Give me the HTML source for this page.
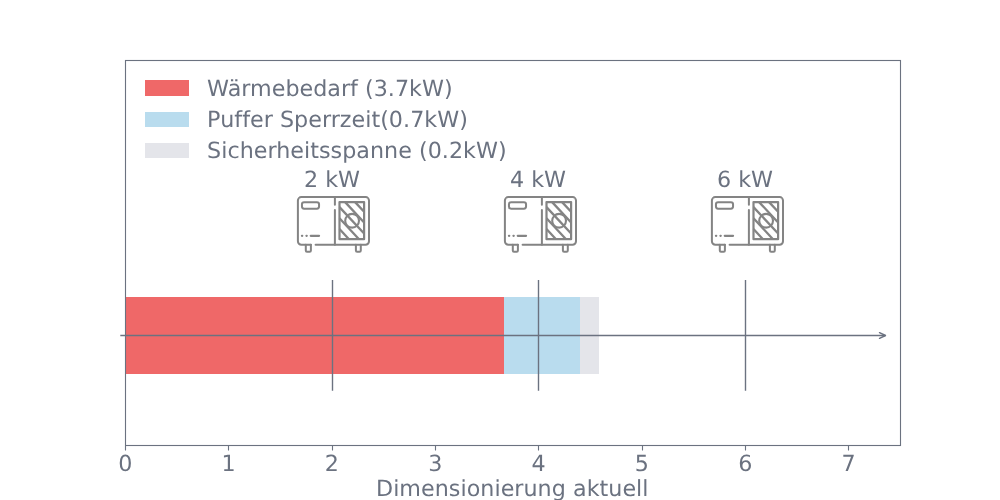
<!DOCTYPE html>
<html lang="de">
<head>
<meta charset="utf-8">
<title>Dimensionierung aktuell</title>
<style>
html,body{margin:0;padding:0;background:#fff;}
body{width:1000px;height:500px;overflow:hidden;}
svg{display:block;}
text{text-rendering:geometricPrecision;font-variant-ligatures:none;font-kerning:normal;font-family:"DejaVu Sans","Liberation Sans",sans-serif;font-size:22.222px;fill:#6b7280;}
.mid{text-anchor:middle;}
.ln{stroke:#6b7280;fill:none;}
</style>
</head>
<body>
<svg width="1000" height="500" viewBox="0 0 1000 500">
<defs>
<g id="hp" fill="none" stroke="#848484" stroke-width="2" stroke-linecap="round" stroke-linejoin="round">
  <path d="M17.6,47.6 H67.6 A3.4,3.4 0 0 0 71,44.2 V3.4 A3.4,3.4 0 0 0 67.6,0 H3.3 A3.4,3.4 0 0 0 -0.1,3.4 V44.2 A3.4,3.4 0 0 0 3.3,47.6 H12.9"/>
  <path d="M36.9,0 V7.6 M36.9,12.8 V47.6"/>
  <rect x="3.95" y="5.05" width="17.1" height="6.5" rx="2.1"/>
  <path stroke-width="2.1" d="M3.9,38.75 h0.4 M8.4,38.75 h0.4 M12.7,38.75 H21.1"/>
  <rect x="41.5" y="5" width="24.6" height="37.1" stroke-width="2.2"/>
  <circle cx="54.1" cy="23.65" r="6.9" stroke-width="2.1"/>
  <path stroke-width="2.3" stroke-linecap="butt" d="M57.10,5.00 L66.10,14.67 M47.15,5.00 L66.10,25.37 M41.50,10.03 L66.10,36.47 M41.50,21.13 L61.01,42.10 M41.50,31.93 L50.96,42.10"/>
  <path d="M7.8,47.6 V53.5 Q7.8,54.7 9,54.7 H11.7 Q12.9,54.7 12.9,53.5 V47.6"/>
  <path d="M57.9,47.6 V53.5 Q57.9,54.7 59.1,54.7 H61.6 Q62.8,54.7 62.8,53.5 V47.6"/>
</g>
</defs>
<rect width="1000" height="500" fill="#ffffff"/>
<!-- bars -->
<rect x="125" y="297" width="379" height="77" fill="#ef6868"/>
<rect x="504" y="297" width="76" height="77" fill="#b9dcee"/>
<rect x="580" y="297" width="19" height="77" fill="#e4e5ea"/>
<!-- marker lines -->
<path class="ln" stroke-width="1.39" d="M332.5,280 V390.8 M538.5,280 V390.8 M745.5,280 V390.8"/>
<!-- arrow -->
<path class="ln" stroke-width="1.39" d="M120.3,335.5 H885.4"/>
<path class="ln" stroke-width="1.39" stroke-linecap="round" stroke-linejoin="round" d="M879.5,332.6 L885.5,335.5 L879.5,338.4"/>
<!-- spines -->
<rect class="ln" x="125.5" y="60.5" width="775" height="385" stroke-width="1.11"/>
<!-- ticks -->
<path class="ln" stroke-width="1.11" d="M125.5,445.5 v4.9 M228.5,445.5 v4.9 M332.5,445.5 v4.9 M435.5,445.5 v4.9 M538.5,445.5 v4.9 M642.5,445.5 v4.9 M745.5,445.5 v4.9 M848.5,445.5 v4.9"/>
<g class="mid">
<text x="125.25" y="470.6">0</text>
<text x="228.58" y="470.6">1</text>
<text x="331.92" y="470.6">2</text>
<text x="435.25" y="470.6">3</text>
<text x="538.58" y="470.6">4</text>
<text x="641.92" y="470.6">5</text>
<text x="745.25" y="470.6">6</text>
<text x="848.58" y="470.6">7</text>
<text x="512.25" y="496" textLength="272.5">Dimensionierung aktuell</text>
<text x="332.02" y="187.4">2 kW</text>
<text x="538.0" y="187.4">4 kW</text>
<text x="745.02" y="187.4">6 kW</text>
</g>
<!-- legend -->
<rect x="145" y="80" width="44" height="16" fill="#ef6868"/>
<rect x="145" y="112" width="44" height="15" fill="#b9dcee"/>
<rect x="145" y="143" width="44" height="15" fill="#e4e5ea"/>
<text x="207.12" y="96" textLength="245.5">Wärmebedarf (3.7kW)</text>
<text x="207.12" y="127.11" textLength="260.75">Puffer Sperrzeit(0.7kW)</text>
<text x="207.12" y="158.22" textLength="299.5">Sicherheitsspanne (0.2kW)</text>
<!-- heat pump icons -->
<use href="#hp" x="298" y="197.1"/>
<use href="#hp" x="505" y="197.1"/>
<use href="#hp" x="712" y="197.1"/>
</svg>
</body>
</html>
